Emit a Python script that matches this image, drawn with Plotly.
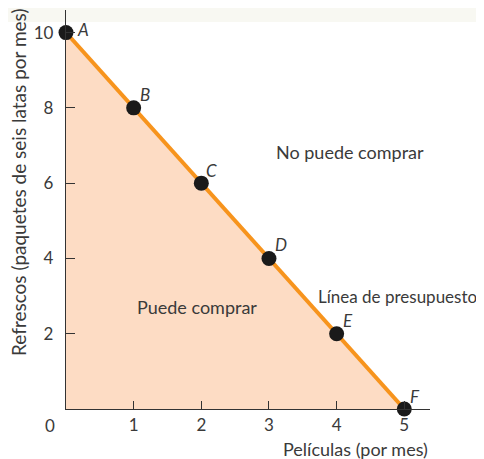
import plotly.graph_objects as go

# Puntos de la línea de presupuesto
puntos = ['A', 'B', 'C', 'D', 'E', 'F']
peliculas = [0, 1, 2, 3, 4, 5]
refrescos = [10, 8, 6, 4, 2, 0]

x_ticks = [1, 2, 3, 4, 5]
y_ticks = [2, 4, 6, 8, 10]

texto = '#3a3a3a'
fuente = 'Lato'

fig = go.Figure()

# zona que se puede comprar + línea
fig.add_trace(go.Scatter(
    x=peliculas, y=refrescos, mode='lines', fill='tozeroy',
    fillcolor='#fddcc4', line=dict(color='#f7941d', width=4),
    cliponaxis=False, hoverinfo='skip'))

fig.add_trace(go.Scatter(
    x=peliculas, y=refrescos, mode='markers',
    marker=dict(color='#1a1a1a', size=15), cliponaxis=False))

# letras de cada punto
desplaz = [(17, 3), (11, 13), (10, 13), (12, 14), (11, 13), (11, 13)]
for p, xv, yv, (dx, dy) in zip(puntos, peliculas, refrescos, desplaz):
    fig.add_annotation(x=xv, y=yv, text='<i>' + p + '</i>', showarrow=False,
                       xshift=dx, yshift=dy, font=dict(size=17, color=texto))

fig.add_annotation(x=4.2, y=6.83, text='No puede comprar', showarrow=False,
                   font=dict(size=18, color=texto))
fig.add_annotation(x=1.94, y=2.71, text='Puede comprar', showarrow=False,
                   font=dict(size=18, color=texto))
fig.add_annotation(x=3.69, y=3.0, text='Línea de presupuesto', showarrow=False,
                   xanchor='left', font=dict(size=17, color=texto))

# origen
fig.add_annotation(xref='paper', yref='paper', x=0, y=0, text='0', showarrow=False,
                   xanchor='center', yanchor='middle',
                   xshift=-16, yshift=-16, font=dict(size=17, color=texto))

# títulos de ejes
fig.add_annotation(xref='paper', yref='paper', x=1, y=0, text='Películas (por mes)',
                   showarrow=False, xanchor='right', yanchor='middle', yshift=-40,
                   font=dict(size=18, color=texto))
fig.add_annotation(xref='paper', yref='y', x=-0.132, y=6.03, xanchor='center',
                   text='Refrescos (paquetes de seis latas por mes)',
                   showarrow=False, textangle=-90, font=dict(size=19, color=texto))

# franja clara superior
fig.add_shape(type='rect', xref='paper', yref='paper', x0=-0.2, x1=1.2,
              y0=0.97, y1=1.05, fillcolor='#f8f8f2', line_width=0, layer='below')

fig.update_xaxes(range=[0, 5.38], tickvals=x_ticks, ticks='inside', ticklen=8,
                 tickcolor='#333', showline=True, linecolor='#333', linewidth=1.3,
                 showgrid=False, zeroline=False, tickfont=dict(size=17, color=texto),
                 automargin=False)
fig.update_yaxes(range=[0, 10.6], tickvals=y_ticks, ticks='inside', ticklen=9,
                 tickcolor='#333', showline=True, linecolor='#333', linewidth=1.3,
                 showgrid=False, zeroline=False, tickfont=dict(size=17, color=texto),
                 ticklabelstandoff=8, automargin=False)

# la página añade 8 px de margen, así que la figura es algo más pequeña
fig.update_layout(
    width=476, height=451, showlegend=False,
    margin=dict(l=58, r=54, t=2, b=50),
    plot_bgcolor='white', paper_bgcolor='white',
    font=dict(family=fuente, color=texto))

fig.write_html('out.html')
